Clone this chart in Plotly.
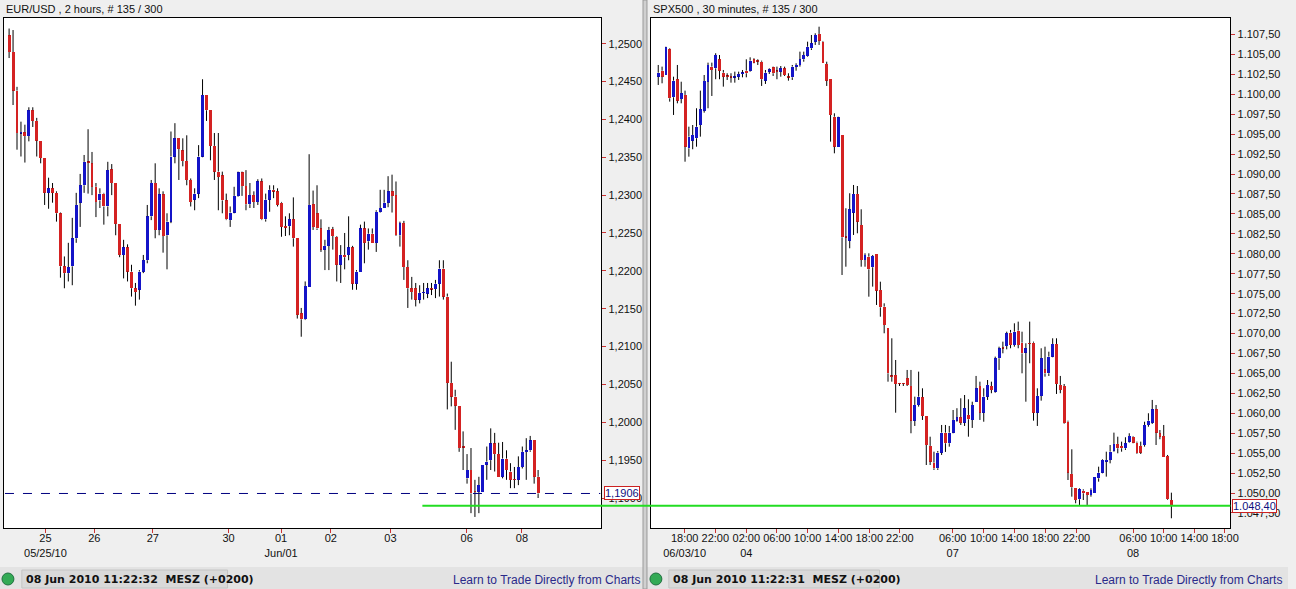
import plotly.graph_objects as go

# ---------------- EUR/USD, 2 hours ----------------
eur_open = [1.2511,1.2489,1.2438,1.2382,1.2383,1.2378,1.2412,1.2398,1.2372,1.2349,
            1.2303,1.2309,1.2303,1.2276,1.2206,1.2197,1.2206,1.2243,1.2290,1.2313,
            1.2344,1.2342,1.2311,1.2293,1.2302,1.2285,1.2334,1.2316,1.2262,1.2221,
            1.2231,1.2199,1.2177,1.2175,1.2199,1.2214,1.2272,1.2316,1.2254,1.2301,
            1.2247,1.2265,1.2351,1.2375,1.2359,1.2345,1.2320,1.2294,1.2302,1.2351,
            1.2432,1.2412,1.2365,1.2331,1.2326,1.2293,1.2267,1.2277,1.2299,1.2330,
            1.2312,1.2288,1.2300,1.2291,1.2318,1.2268,1.2294,1.2307,1.2305,1.2290,
            1.2259,1.2259,1.2268,1.2243,1.2144,1.2136,1.2179,1.2288,1.2276,1.2256,
            1.2228,1.2233,1.2255,1.2245,1.2208,1.2221,1.2221,1.2231,1.2183,1.2199,
            1.2256,1.2239,1.2249,1.2237,1.2278,1.2283,1.2290,1.2305,1.2300,1.2247,
            1.2263,1.2205,1.2177,1.2177,1.2162,1.2171,1.2170,1.2176,1.2176,1.2183,
            1.2203,1.2166,1.2052,1.2034,1.2022,1.1967,1.1926,1.1937,1.1908,1.1908,
            1.1908,1.1944,1.1950,1.1972,1.1958,1.1928,1.1952,1.1935,1.1924,1.1924,
            1.1941,1.1961,1.1963,1.1976,1.1928]
eur_high = [1.2520,1.2518,1.2443,1.2397,1.2393,1.2416,1.2416,1.2402,1.2372,1.2349,
            1.2323,1.2316,1.2305,1.2277,1.2219,1.2237,1.2270,1.2303,1.2328,1.2353,
            1.2387,1.2357,1.2316,1.2309,1.2303,1.2344,1.2341,1.2316,1.2262,1.2241,
            1.2235,1.2208,1.2184,1.2201,1.2221,1.2287,1.2320,1.2342,1.2309,1.2305,
            1.2276,1.2384,1.2395,1.2375,1.2375,1.2379,1.2322,1.2309,1.2366,1.2453,
            1.2432,1.2412,1.2382,1.2382,1.2331,1.2302,1.2285,1.2311,1.2331,1.2331,
            1.2333,1.2316,1.2305,1.2321,1.2322,1.2302,1.2313,1.2313,1.2309,1.2291,
            1.2272,1.2276,1.2297,1.2243,1.2151,1.2186,1.2354,1.2306,1.2313,1.2268,
            1.2241,1.2258,1.2258,1.2246,1.2234,1.2250,1.2272,1.2233,1.2201,1.2261,
            1.2265,1.2256,1.2256,1.2280,1.2307,1.2307,1.2325,1.2327,1.2318,1.2265,
            1.2266,1.2214,1.2192,1.2184,1.2181,1.2184,1.2184,1.2184,1.2188,1.2214,
            1.2214,1.2170,1.2080,1.2043,1.2022,1.1988,1.1958,1.1966,1.1924,1.1928,
            1.1944,1.1968,1.1992,1.1986,1.1973,1.1974,1.1963,1.1946,1.1941,1.1955,
            1.1968,1.1979,1.1982,1.1976,1.1937]
eur_low  = [1.2481,1.2419,1.2360,1.2351,1.2343,1.2371,1.2390,1.2351,1.2342,1.2287,
            1.2282,1.2290,1.2265,1.2191,1.2177,1.2186,1.2181,1.2237,1.2258,1.2303,
            1.2302,1.2300,1.2271,1.2283,1.2261,1.2272,1.2300,1.2247,1.2218,1.2190,
            1.2186,1.2166,1.2154,1.2162,1.2197,1.2210,1.2267,1.2243,1.2247,1.2224,
            1.2202,1.2263,1.2342,1.2320,1.2338,1.2313,1.2285,1.2280,1.2296,1.2350,
            1.2398,1.2346,1.2320,1.2280,1.2276,1.2267,1.2258,1.2276,1.2298,1.2299,
            1.2280,1.2283,1.2283,1.2287,1.2267,1.2265,1.2278,1.2296,1.2285,1.2245,
            1.2246,1.2247,1.2232,1.2137,1.2113,1.2135,1.2179,1.2254,1.2254,1.2225,
            1.2201,1.2201,1.2228,1.2186,1.2184,1.2202,1.2214,1.2175,1.2175,1.2199,
            1.2210,1.2228,1.2237,1.2225,1.2277,1.2283,1.2284,1.2277,1.2246,1.2232,
            1.2188,1.2151,1.2162,1.2153,1.2157,1.2162,1.2164,1.2168,1.2164,1.2166,
            1.2162,1.2017,1.2021,1.1990,1.1961,1.1937,1.1919,1.1880,1.1875,1.1880,
            1.1908,1.1924,1.1937,1.1935,1.1928,1.1926,1.1924,1.1913,1.1913,1.1917,
            1.1939,1.1924,1.1961,1.1919,1.1900]
eur_close= [1.2489,1.2438,1.2382,1.2383,1.2378,1.2412,1.2398,1.2372,1.2349,1.2303,
            1.2309,1.2303,1.2276,1.2206,1.2197,1.2205,1.2243,1.2287,1.2313,1.2344,
            1.2343,1.2311,1.2291,1.2302,1.2285,1.2333,1.2316,1.2262,1.2221,1.2231,
            1.2199,1.2177,1.2172,1.2199,1.2214,1.2272,1.2316,1.2254,1.2301,1.2246,
            1.2265,1.2351,1.2375,1.2361,1.2345,1.2320,1.2291,1.2302,1.2351,1.2432,
            1.2412,1.2365,1.2331,1.2324,1.2293,1.2268,1.2277,1.2299,1.2330,1.2312,
            1.2288,1.2300,1.2291,1.2318,1.2268,1.2294,1.2307,1.2305,1.2287,1.2258,
            1.2257,1.2268,1.2243,1.2142,1.2136,1.2180,1.2287,1.2258,1.2256,1.2228,
            1.2233,1.2254,1.2246,1.2208,1.2221,1.2218,1.2231,1.2183,1.2199,1.2256,
            1.2237,1.2249,1.2237,1.2278,1.2283,1.2290,1.2305,1.2299,1.2247,1.2263,
            1.2205,1.2177,1.2172,1.2162,1.2171,1.2172,1.2177,1.2176,1.2183,1.2203,
            1.2166,1.2052,1.2034,1.2022,1.1966,1.1967,1.1937,1.1906,1.1908,1.1917,
            1.1944,1.1948,1.1972,1.1958,1.1928,1.1952,1.1937,1.1924,1.1924,1.1941,
            1.1961,1.1963,1.1976,1.1928,1.1906]
eur_tick_idx  = [9.2, 21.6, 36.4, 55.6, 68.9, 81.5, 96.6, 115.9, 129.9]
eur_tick_text = ["25<br>05/25/10", "26", "27", "30", "01<br>Jun/01", "02", "03", "06", "08"]
eur_last = 1.1906

# ---------------- SPX500, 30 minutes ----------------
spx_open = [1102.21,1102.96,1102.42,1105.65,1099.63,1101.89,1099.41,1099.92,1093.23,1094.19,
            1094.49,1096.15,1097.95,1101.58,1103.47,1103.26,1104.39,1102.71,1102.21,1102.13,
            1102.13,1102.21,1102.55,1102.96,1102.96,1104.39,1104.14,1104.09,1101.71,1102.84,
            1103.39,1102.84,1102.84,1103.26,1102.13,1102.13,1103.47,1103.68,1104.39,1104.81,
            1105.77,1106.60,1107.57,1106.60,1103.80,1101.89,1097.19,1093.43,1094.90,1082.07,
            1081.64,1085.16,1087.50,1083.61,1079.22,1079.64,1078.31,1079.98,1075.46,1073.37,
            1070.66,1064.59,1064.80,1063.67,1063.67,1064.39,1063.42,1059.07,1061.04,1062.01,
            1059.66,1055.90,1053.80,1053.10,1055.06,1057.57,1056.24,1057.57,1059.07,1059.50,
            1058.82,1059.79,1059.16,1061.45,1063.42,1060.07,1062.08,1063.42,1062.71,1066.90,
            1068.15,1068.44,1070.11,1068.56,1070.36,1068.85,1067.60,1068.69,1068.85,1060.07,
            1062.17,1065.52,1065.01,1067.10,1068.69,1063.55,1063.42,1058.94,1052.39,1050.59,
            1049.21,1050.29,1050.16,1049.75,1049.96,1051.84,1052.55,1053.93,1054.14,1055.31,
            1056.15,1055.90,1055.61,1056.44,1057.06,1056.31,1055.90,1056.02,1058.53,1058.82,
            1060.50,1057.49,1057.15,1054.64,1049.12]
spx_high = [1103.68,1103.47,1105.97,1105.77,1102.21,1103.68,1101.58,1100.46,1095.94,1096.15,
            1098.25,1100.46,1102.42,1103.97,1103.97,1105.15,1104.93,1103.05,1102.64,1102.64,
            1102.84,1102.84,1103.05,1104.39,1104.64,1104.52,1104.39,1104.22,1103.05,1103.26,
            1103.47,1103.47,1103.55,1103.47,1102.64,1103.68,1103.89,1105.35,1105.35,1106.60,
            1107.44,1107.65,1108.48,1106.69,1104.09,1101.89,1097.62,1097.19,1094.90,1085.71,
            1087.59,1088.63,1088.50,1085.58,1080.06,1080.06,1079.85,1079.98,1076.50,1073.79,
            1070.66,1069.40,1066.68,1063.80,1063.80,1065.43,1065.43,1062.08,1065.22,1063.13,
            1059.66,1057.06,1055.18,1055.27,1058.53,1058.53,1058.41,1060.41,1060.63,1061.88,
            1062.29,1061.75,1061.45,1064.68,1063.96,1063.13,1064.17,1063.96,1067.10,1068.35,
            1068.98,1070.23,1070.45,1071.28,1071.49,1070.23,1068.78,1071.49,1068.98,1063.13,
            1068.15,1068.35,1067.72,1069.40,1069.40,1064.68,1063.67,1059.07,1055.48,1050.59,
            1050.59,1050.46,1050.16,1050.59,1052.05,1053.30,1054.23,1055.18,1056.02,1057.57,
            1057.06,1056.44,1056.99,1057.49,1057.15,1056.44,1056.44,1058.94,1060.00,1061.67,
            1061.04,1057.90,1058.53,1054.77,1050.04]
spx_low  = [1101.17,1101.38,1102.42,1099.08,1097.41,1098.87,1098.87,1091.55,1092.18,1093.11,
            1093.43,1094.69,1097.70,1098.25,1099.79,1101.89,1101.89,1100.96,1101.80,1101.46,
            1101.46,1101.80,1102.13,1102.13,1102.84,1103.89,1103.68,1101.05,1101.30,1102.55,
            1102.30,1101.89,1102.21,1102.30,1101.71,1101.80,1102.96,1103.47,1104.09,1104.72,
            1105.56,1106.19,1106.19,1103.89,1101.05,1094.06,1092.60,1093.43,1077.34,1078.38,
            1080.69,1082.36,1082.57,1078.38,1078.38,1074.62,1075.88,1073.58,1072.11,1070.03,
            1063.96,1063.96,1060.07,1063.42,1063.42,1063.42,1057.49,1058.41,1060.83,1059.16,
            1053.51,1053.51,1052.89,1052.89,1054.77,1055.15,1055.81,1057.49,1058.94,1058.53,
            1058.41,1057.06,1058.16,1061.45,1059.16,1058.94,1061.67,1062.51,1062.58,1065.43,
            1067.52,1068.02,1068.15,1068.35,1068.15,1065.01,1061.45,1066.27,1059.07,1058.41,
            1061.58,1064.59,1064.68,1067.02,1062.42,1062.51,1058.66,1051.63,1049.54,1048.71,
            1048.50,1049.12,1048.50,1049.54,1049.96,1051.42,1052.47,1052.05,1053.72,1055.18,
            1054.98,1055.18,1055.40,1056.31,1056.24,1054.89,1054.89,1055.81,1058.31,1058.66,
            1056.02,1056.74,1054.56,1049.12,1046.83]
spx_close= [1102.71,1102.21,1105.90,1099.50,1101.71,1099.20,1100.13,1093.43,1094.69,1094.90,
            1095.94,1098.12,1101.67,1103.68,1103.05,1104.93,1102.96,1102.21,1102.21,1102.13,
            1102.14,1102.55,1102.71,1102.64,1104.22,1103.97,1104.14,1101.89,1102.71,1103.14,
            1102.64,1102.84,1103.26,1102.42,1102.13,1103.47,1103.68,1104.39,1104.93,1105.97,
            1106.40,1107.44,1106.73,1103.89,1101.71,1097.41,1093.43,1097.12,1082.07,1082.07,
            1085.58,1087.50,1084.03,1079.22,1079.85,1078.06,1079.73,1075.37,1073.29,1071.07,
            1065.01,1064.59,1063.67,1063.67,1063.67,1063.55,1059.07,1061.04,1062.08,1059.66,
            1056.02,1053.93,1053.10,1055.06,1057.57,1056.24,1057.57,1059.16,1059.50,1058.82,
            1060.63,1059.25,1061.04,1063.13,1060.07,1062.08,1063.55,1062.92,1066.90,1068.15,
            1068.15,1070.03,1068.56,1070.23,1068.56,1067.52,1068.15,1068.69,1060.07,1062.17,
            1066.90,1065.01,1067.10,1068.69,1063.67,1062.92,1058.74,1052.55,1050.72,1049.12,
            1050.46,1049.96,1049.75,1050.38,1052.05,1052.55,1054.14,1054.14,1055.18,1056.15,
            1055.61,1055.61,1056.24,1057.15,1056.31,1054.98,1055.06,1058.53,1059.07,1060.50,
            1057.57,1057.06,1054.56,1049.21,1048.40]
spx_tick_idx  = [6.9, 14.9, 23.0, 31.0, 39.0, 47.1, 55.1, 63.1, 76.9, 85.0, 93.1,
                 101.1, 109.2, 124.0, 132.0, 140.0, 148.0]
spx_tick_text = ["18:00<br>06/03/10", "22:00", "02:00<br>04", "06:00", "10:00", "14:00",
                 "18:00", "22:00", "06:00<br>07", "10:00", "14:00", "18:00", "22:00",
                 "06:00<br>08", "10:00", "14:00", "18:00"]
spx_last = 1048.40

UP = "#1414c8"
DOWN = "#d42222"
W, H = 1296, 589
FONT = "Liberation Sans, Arial, sans-serif"


def px_x(p):
    return p / W


def px_y(p):
    return 1 - p / H


fig = go.Figure()


def add_candles(o, h, l, c, xa, ya, min_body):
    n = len(o)
    base = [min(o[i], c[i]) for i in range(n)]
    height = [max(abs(c[i] - o[i]), min_body) for i in range(n)]
    top = [base[i] + height[i] for i in range(n)]
    xs, ys = [], []
    for i in range(n):
        xs += [i, i, None, i, i, None]
        ys += [l[i], base[i], None, top[i], max(h[i], top[i]), None]
    fig.add_trace(go.Scatter(x=xs, y=ys, mode="lines", line=dict(color="black", width=1),
                             xaxis=xa, yaxis=ya, hoverinfo="skip", showlegend=False))
    colors = [UP if c[i] > o[i] else DOWN for i in range(n)]
    fig.add_trace(go.Bar(x=list(range(n)), y=height, base=base, width=0.74,
                         marker=dict(color=colors, line=dict(width=0)),
                         xaxis=xa, yaxis=ya, showlegend=False))


add_candles(eur_open, eur_high, eur_low, eur_close, "x", "y", 0.00009)
add_candles(spx_open, spx_high, spx_low, spx_close, "x2", "y2", 0.09)

ydom = [px_y(528), px_y(18)]
axis_common = dict(showline=True, linecolor="black", linewidth=1, mirror=True,
                   showgrid=False, zeroline=False, ticks="outside", ticklen=4,
                   tickcolor="#cc3333", tickfont=dict(family=FONT, size=11, color="#111111"))

fig.update_layout(
    width=W, height=H, margin=dict(l=0, r=0, t=0, b=0),
    paper_bgcolor="#efefef", plot_bgcolor="white",
    separators=",.", bargap=0, showlegend=False,
    font=dict(family=FONT, size=11, color="#111111"),
    xaxis=dict(domain=[px_x(4), px_x(605)], range=[-1.3, 150], anchor="y", tickangle=0,
               ticklabelstandoff=-4,
               tickmode="array", tickvals=eur_tick_idx, ticktext=eur_tick_text, **axis_common),
    yaxis=dict(domain=ydom, range=[1.18604, 1.25339], side="right", anchor="x",
               tickformat=".4f", dtick=0.005, tick0=1.2, **axis_common),
    xaxis2=dict(domain=[px_x(655), px_x(1238)], range=[-1.9, 149.4], anchor="y2", tickangle=0,
                ticklabelstandoff=-4,
                tickmode="array", tickvals=spx_tick_idx, ticktext=spx_tick_text, **axis_common),
    yaxis2=dict(domain=ydom, range=[1045.61, 1109.57], side="right", anchor="x2",
                tickformat=",.2f", dtick=2.5, tick0=1050, **axis_common),
)

shapes = []
shapes.append(dict(type="rect", xref="paper", yref="paper", x0=0, x1=1,
                   y0=0, y1=px_y(567), fillcolor="#e3e3e3", line=dict(width=0), layer="below"))
for xs0, xs1 in [(22, 229), (673, 885)]:
    shapes.append(dict(type="rect", xref="paper", yref="paper", x0=px_x(xs0), x1=px_x(xs1),
                       y0=px_y(588), y1=px_y(570), fillcolor="#d9d9d9",
                       line=dict(color="#c4c4c4", width=1), layer="below"))
shapes.append(dict(type="rect", xref="paper", yref="paper", x0=px_x(647), x1=px_x(651),
                   y0=0, y1=1, fillcolor="#d0d0d0", line=dict(color="#9a9a9a", width=1), layer="below"))
shapes.append(dict(type="line", xref="paper", yref="y", x0=px_x(5), x1=px_x(604),
                   y0=eur_last, y1=eur_last, line=dict(color="#000080", width=1, dash="dash")))
shapes.append(dict(type="line", xref="paper", yref="y2", x0=px_x(425), x1=px_x(1238),
                   y0=spx_last, y1=spx_last, line=dict(color="#22dd22", width=2)))
for cx in [8, 660]:
    shapes.append(dict(type="circle", xref="paper", yref="paper",
                       x0=px_x(cx - 6), x1=px_x(cx + 6), y0=px_y(585), y1=px_y(573),
                       fillcolor="#33aa55", line=dict(color="#207040", width=1)))
fig.update_layout(shapes=shapes)

ann = []
ann.append(dict(text="EUR/USD , 2 hours, # 135 / 300", x=px_x(4), y=px_y(9), xref="paper", yref="paper",
                xanchor="left", yanchor="middle", showarrow=False, font=dict(size=11, color="#111111")))
ann.append(dict(text="SPX500 , 30 minutes, # 135 / 300", x=px_x(655), y=px_y(9), xref="paper", yref="paper",
                xanchor="left", yanchor="middle", showarrow=False, font=dict(size=11, color="#111111")))
ann.append(dict(text="1,1906", x=px_x(608), y=eur_last, xref="paper", yref="y", xanchor="left",
                yanchor="middle", showarrow=False, bgcolor="white", bordercolor="#cc2222", borderwidth=1,
                borderpad=0, font=dict(size=11, color="#101080")))
ann.append(dict(text="1.048,40", x=px_x(1240), y=spx_last, xref="paper", yref="y2", xanchor="left",
                yanchor="middle", showarrow=False, bgcolor="white", bordercolor="#cc2222", borderwidth=1,
                borderpad=0, font=dict(size=11, color="#101080")))
for x0, t in [(24, "08 Jun 2010 11:22:32  MESZ (+0200)"), (675, "08 Jun 2010 11:22:31  MESZ (+0200)")]:
    ann.append(dict(text="<b>" + t + "</b>", x=px_x(x0), y=px_y(579), xref="paper", yref="paper",
                    xanchor="left", yanchor="middle", showarrow=False,
                    font=dict(family="DejaVu Sans, Arial", size=11, color="#111111")))
for x1 in [646, 1292]:
    ann.append(dict(text="Learn to Trade Directly from Charts", x=px_x(x1), y=px_y(580), xref="paper",
                    yref="paper", xanchor="right", yanchor="middle", showarrow=False,
                    font=dict(size=12, color="#2a2a8a")))
fig.update_layout(annotations=ann)

fig.write_html("out.html", config={"displayModeBar": False},
               post_script="document.body.style.margin='0';document.body.style.overflow='hidden';")
